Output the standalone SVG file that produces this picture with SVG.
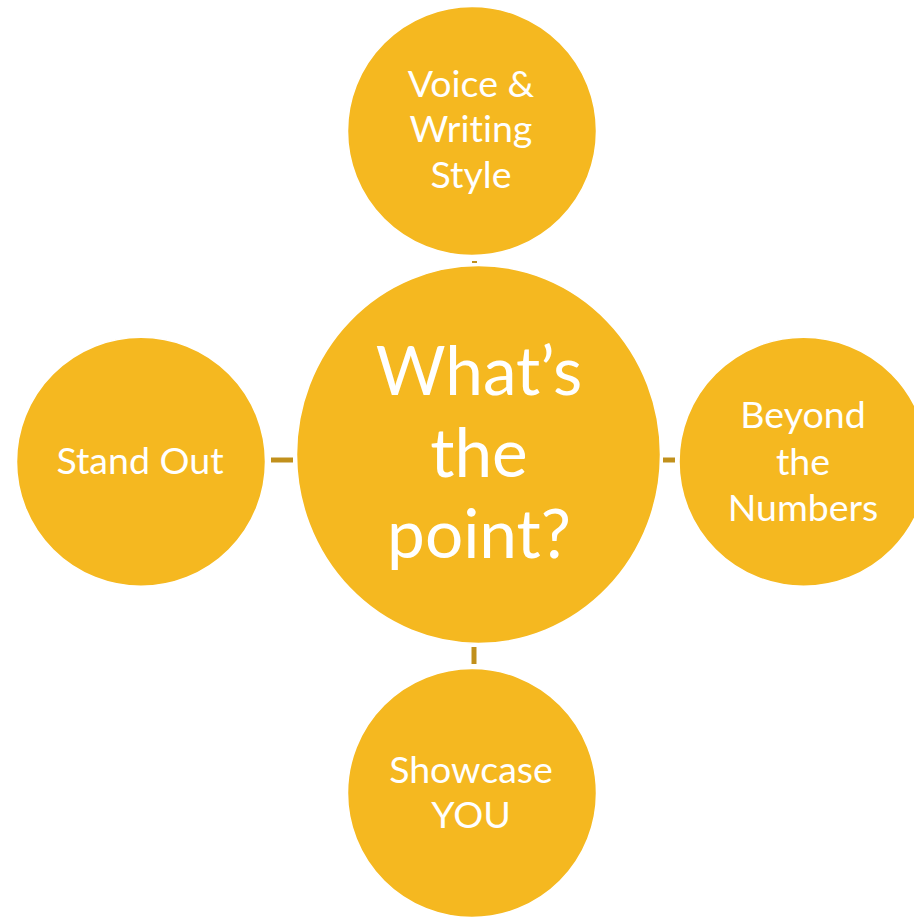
<svg xmlns="http://www.w3.org/2000/svg" width="914" height="917" viewBox="0 0 914 917">
<style>
.node{fill:#F5B820;stroke:#FFFFFF;stroke-width:1.5}
.lbl{fill:#FFFFFF;font-family:Lato,"Noto Sans","DejaVu Sans",sans-serif;text-anchor:middle;font-variant-ligatures:none;font-feature-settings:"liga" 0,"dlig" 0}
.sm{font-size:37.5px}
.big{font-size:67.5px}
.conn{stroke:#C1901C;fill:none}
</style>
<rect width="914" height="917" fill="#FFFFFF"/>
<g id="connectors">
<line class="conn" x1="472" y1="262" x2="477" y2="262" stroke-width="2"/>
<line class="conn" x1="271" y1="460" x2="293" y2="460" stroke-width="5"/>
<line class="conn" x1="663" y1="460" x2="675" y2="460" stroke-width="5"/>
<line class="conn" x1="474" y1="647" x2="474" y2="664" stroke-width="5"/>
</g>
<g id="center">
<ellipse class="node" cx="478.5" cy="454.5" rx="182" ry="189"/>
<text class="lbl big" x="479" y="395">What’s</text>
<text class="lbl big" x="479" y="477">the</text>
<text class="lbl big" x="479" y="558">point?</text>
</g>
<g id="top">
<circle class="node" cx="472" cy="131" r="124.5"/>
<text class="lbl sm" x="471" y="97">Voice &amp;</text>
<text class="lbl sm" x="471" y="142">Writing</text>
<text class="lbl sm" x="471" y="188">Style</text>
</g>
<g id="left">
<circle class="node" cx="141" cy="461.7" r="124.5"/>
<text class="lbl sm" x="140" y="474">Stand Out</text>
</g>
<g id="right">
<circle class="node" cx="803.5" cy="461.7" r="124.5"/>
<text class="lbl sm" x="803" y="428">Beyond</text>
<text class="lbl sm" x="803" y="475">the</text>
<text class="lbl sm" x="803" y="521">Numbers</text>
</g>
<g id="bottom">
<circle class="node" cx="472" cy="793" r="124.5"/>
<text class="lbl sm" x="471" y="783">Showcase</text>
<text class="lbl sm" x="471" y="828">YOU</text>
</g>
</svg>
